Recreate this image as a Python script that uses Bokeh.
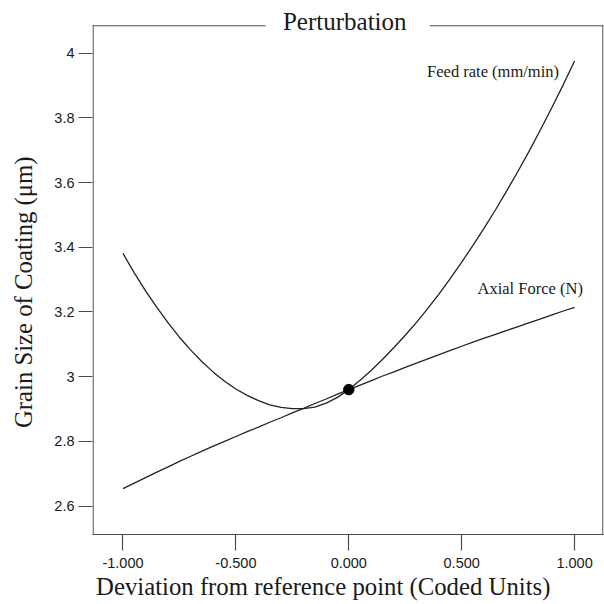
from bokeh.plotting import figure
from bokeh.models import (Range1d, FixedTicker, CustomJSTickFormatter, Label, ColumnDataSource,
                          BoxAnnotation)
from bokeh.embed import file_html
from bokeh.resources import INLINE

# ---- data ----
deviation = [-1.00, -0.95, -0.90, -0.85, -0.80, -0.75, -0.70, -0.65, -0.60, -0.55, -0.50,
             -0.45, -0.40, -0.35, -0.30, -0.25, -0.20, -0.15, -0.10, -0.05, 0.00,
             0.05, 0.10, 0.15, 0.20, 0.25, 0.30, 0.35, 0.40, 0.45, 0.50,
             0.55, 0.60, 0.65, 0.70, 0.75, 0.80, 0.85, 0.90, 0.95, 1.00]
feed_rate = [3.381, 3.321, 3.265, 3.214, 3.166, 3.122, 3.082, 3.046, 3.014, 2.986, 2.962,
             2.942, 2.926, 2.913, 2.905, 2.901, 2.901, 2.906, 2.918, 2.936, 2.960,
             2.989, 3.020, 3.054, 3.090, 3.128, 3.168, 3.211, 3.256, 3.304, 3.354,
             3.406, 3.460, 3.516, 3.575, 3.636, 3.699, 3.765, 3.833, 3.903, 3.976]
axial_force = [2.654, 2.671, 2.688, 2.705, 2.721, 2.738, 2.754, 2.770, 2.785, 2.800, 2.815,
               2.830, 2.844, 2.859, 2.873, 2.888, 2.902, 2.917, 2.931, 2.946, 2.960,
               2.974, 2.988, 3.002, 3.015, 3.029, 3.042, 3.055, 3.068, 3.081, 3.094,
               3.107, 3.119, 3.131, 3.143, 3.155, 3.167, 3.179, 3.191, 3.203, 3.214]
ref_x = [0.0]
ref_y = [2.96]

x_ticks = [-1.0, -0.5, 0.0, 0.5, 1.0]
x_tick_labels = ["-1.000", "-0.500", "0.000", "0.500", "1.000"]
y_ticks = [2.6, 2.8, 3.0, 3.2, 3.4, 3.6, 3.8, 4.0]
y_tick_labels = ["2.6", "2.8", "3", "3.2", "3.4", "3.6", "3.8", "4"]

title_text = "Perturbation"
x_label = "Deviation from reference point (Coded Units)"
y_label = "Grain Size of Coating (\u03bcm)"
series_names = ["Feed rate (mm/min)", "Axial Force (N)"]

SERIF = "Liberation Serif"
SANS = "Liberation Sans"
INK = "#1a1a1a"
FRAME = "#4d4d4d"
NBSP = "\u00a0"
X0, X1 = -1.135, 1.128          # visible x extent of the box
Y0 = 2.512                      # bottom of the box
BOX_TOP = 4.085                 # top edge of the drawn box
Y_VIEW_TOP = 4.163              # range extends above the box to hold the title
GAP_L, GAP_R = -0.368, 0.359    # gap in the top line behind the title
LW_Y = 0.0037                   # ~1.2 px in y data units
LW_X = 0.0053                   # ~1.2 px in x data units

p = figure(width=604, height=604, output_backend="svg", toolbar_location=None,
           x_range=Range1d(X0, X1), y_range=Range1d(Y0, Y_VIEW_TOP),
           min_border_left=92, min_border_right=1, min_border_top=0, min_border_bottom=70)
p.title.visible = False
p.grid.visible = False
p.background_fill_color = "white"
p.border_fill_color = "white"
p.outline_line_color = None

fmt_code = """
const i = tvals.findIndex(t => Math.abs(t - tick) < 1e-9);
return i >= 0 ? tlabels[i] : '';
"""

xa = p.xaxis[0]
xa.ticker = FixedTicker(ticks=x_ticks)
xa.formatter = CustomJSTickFormatter(args=dict(tvals=x_ticks, tlabels=x_tick_labels), code=fmt_code)
# trailing non-breaking spaces shift the label off the frame centre, as in the original
xa.axis_label = x_label + NBSP * 8
ya = p.yaxis[0]
ya.ticker = FixedTicker(ticks=y_ticks)
ya.formatter = CustomJSTickFormatter(args=dict(tvals=y_ticks, tlabels=y_tick_labels), code=fmt_code)
ya.axis_label = y_label + NBSP * 8

for ax in (xa, ya):
    ax.major_tick_line_color = FRAME
    ax.major_tick_line_width = 1.2
    ax.major_tick_in = 0
    ax.minor_tick_line_color = None
    ax.major_label_text_font = SANS
    ax.major_label_text_font_size = "14.5px"
    ax.major_label_text_color = INK
    ax.axis_label_text_font = SERIF
    ax.axis_label_text_font_size = "24.75px"
    ax.axis_label_text_font_style = "normal"
    ax.axis_label_text_color = INK

xa.axis_line_color = FRAME
xa.axis_line_width = 1.2
ya.axis_line_color = None
xa.major_tick_out = 16
xa.major_label_standoff = 7
xa.axis_label_standoff = 2
ya.major_tick_out = 14
ya.major_label_standoff = 4
ya.axis_label_standoff = 14

# box: left, right and top (top interrupted behind the title)
frame_kw = dict(fill_color=FRAME, fill_alpha=1.0, line_color=None, level="underlay")
p.add_layout(BoxAnnotation(left=X0, right=X0 + LW_X, top=BOX_TOP + LW_Y / 2, **frame_kw))
p.add_layout(BoxAnnotation(left=X1 - LW_X, right=X1, top=BOX_TOP + LW_Y / 2, **frame_kw))
for l, r in ((X0, GAP_L), (GAP_R, X1)):
    p.add_layout(BoxAnnotation(left=l, right=r, top=BOX_TOP + LW_Y / 2,
                               bottom=BOX_TOP - LW_Y / 2, **frame_kw))

src = ColumnDataSource(dict(x=deviation, feed=feed_rate, axial=axial_force))
p.line("x", "feed", source=src, line_color="#222222", line_width=1.3)
p.line("x", "axial", source=src, line_color="#222222", line_width=1.3)
p.scatter(ref_x, ref_y, size=10.5, fill_color="black", line_color="black")

p.add_layout(Label(x=0.931, y=3.943, text=series_names[0], text_align="right",
                   text_baseline="middle", text_font=SERIF, text_font_size="16.5px",
                   text_color=INK))
p.add_layout(Label(x=0.57, y=3.272, text=series_names[1], text_align="left",
                   text_baseline="middle", text_font=SERIF, text_font_size="16.5px",
                   text_color=INK))

p.add_layout(Label(x=-0.018, y=BOX_TOP, y_offset=4.5, text=title_text, text_align="center",
                   text_baseline="middle", text_font=SERIF, text_font_size="25px",
                   text_color=INK))

open("out.html", "w").write(file_html(p, INLINE))
